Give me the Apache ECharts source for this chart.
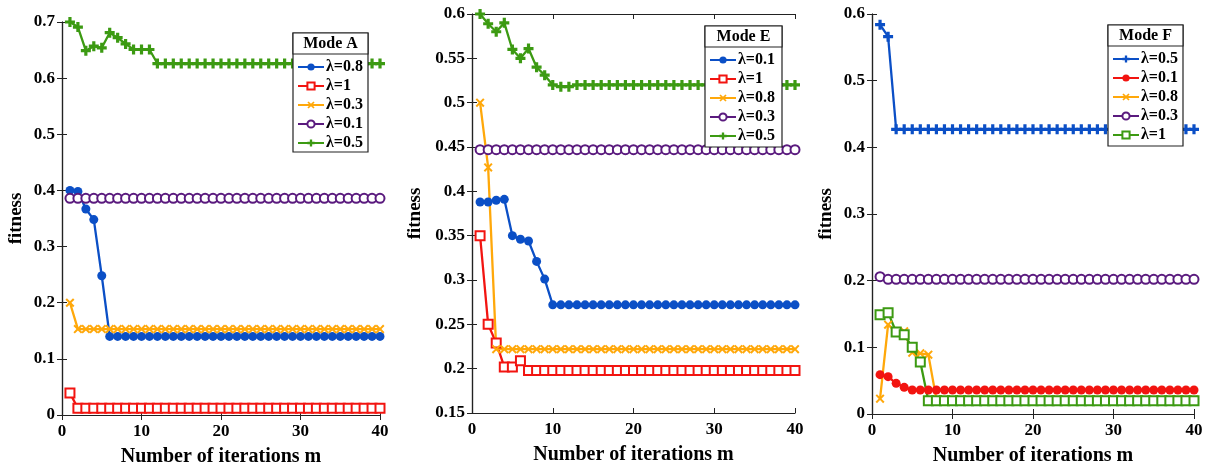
<!DOCTYPE html>
<html>
<head>
<meta charset="utf-8">
<script src="https://cdn.jsdelivr.net/npm/echarts@6/dist/echarts.min.js"></script>
<style>
    html, body { margin: 0; padding: 0; background: #fff; }
    #chart { width: 1211px; height: 465px; }
</style>
</head>
<body>
<div id="chart"></div>
<script>
// iteration numbers (x)
const iterations = [
    1, 2, 3, 4, 5, 6, 7, 8, 9, 10,
    11, 12, 13, 14, 15, 16, 17, 18, 19, 20,
    21, 22, 23, 24, 25, 26, 27, 28, 29, 30,
    31, 32, 33, 34, 35, 36, 37, 38, 39, 40
];

// Mode A
const aLam08 = [
    0.400, 0.398, 0.367, 0.348, 0.248, 0.140, 0.140, 0.140, 0.140, 0.140,
    0.140, 0.140, 0.140, 0.140, 0.140, 0.140, 0.140, 0.140, 0.140, 0.140,
    0.140, 0.140, 0.140, 0.140, 0.140, 0.140, 0.140, 0.140, 0.140, 0.140,
    0.140, 0.140, 0.140, 0.140, 0.140, 0.140, 0.140, 0.140, 0.140, 0.140
];
const aLam1 = [
    0.039, 0.012, 0.012, 0.012, 0.012, 0.012, 0.012, 0.012, 0.012, 0.012,
    0.012, 0.012, 0.012, 0.012, 0.012, 0.012, 0.012, 0.012, 0.012, 0.012,
    0.012, 0.012, 0.012, 0.012, 0.012, 0.012, 0.012, 0.012, 0.012, 0.012,
    0.012, 0.012, 0.012, 0.012, 0.012, 0.012, 0.012, 0.012, 0.012, 0.012
];
const aLam03 = [
    0.200, 0.153, 0.153, 0.153, 0.153, 0.153, 0.153, 0.153, 0.153, 0.153,
    0.153, 0.153, 0.153, 0.153, 0.153, 0.153, 0.153, 0.153, 0.153, 0.153,
    0.153, 0.153, 0.153, 0.153, 0.153, 0.153, 0.153, 0.153, 0.153, 0.153,
    0.153, 0.153, 0.153, 0.153, 0.153, 0.153, 0.153, 0.153, 0.153, 0.153
];
const aLam01 = [
    0.386, 0.386, 0.386, 0.386, 0.386, 0.386, 0.386, 0.386, 0.386, 0.386,
    0.386, 0.386, 0.386, 0.386, 0.386, 0.386, 0.386, 0.386, 0.386, 0.386,
    0.386, 0.386, 0.386, 0.386, 0.386, 0.386, 0.386, 0.386, 0.386, 0.386,
    0.386, 0.386, 0.386, 0.386, 0.386, 0.386, 0.386, 0.386, 0.386, 0.386
];
const aLam05 = [
    0.700, 0.691, 0.649, 0.657, 0.654, 0.681, 0.672, 0.661, 0.651, 0.651,
    0.651, 0.626, 0.626, 0.626, 0.626, 0.626, 0.626, 0.626, 0.626, 0.626,
    0.626, 0.626, 0.626, 0.626, 0.626, 0.626, 0.626, 0.626, 0.626, 0.626,
    0.626, 0.626, 0.626, 0.626, 0.626, 0.626, 0.626, 0.626, 0.626, 0.626
];

// Mode E
const eLam01 = [
    0.388, 0.388, 0.390, 0.391, 0.350, 0.346, 0.344, 0.321, 0.301, 0.272,
    0.272, 0.272, 0.272, 0.272, 0.272, 0.272, 0.272, 0.272, 0.272, 0.272,
    0.272, 0.272, 0.272, 0.272, 0.272, 0.272, 0.272, 0.272, 0.272, 0.272,
    0.272, 0.272, 0.272, 0.272, 0.272, 0.272, 0.272, 0.272, 0.272, 0.272
];
const eLam1 = [
    0.350, 0.250, 0.229, 0.202, 0.202, 0.209, 0.198, 0.198, 0.198, 0.198,
    0.198, 0.198, 0.198, 0.198, 0.198, 0.198, 0.198, 0.198, 0.198, 0.198,
    0.198, 0.198, 0.198, 0.198, 0.198, 0.198, 0.198, 0.198, 0.198, 0.198,
    0.198, 0.198, 0.198, 0.198, 0.198, 0.198, 0.198, 0.198, 0.198, 0.198
];
const eLam08 = [
    0.500, 0.427, 0.222, 0.222, 0.222, 0.222, 0.222, 0.222, 0.222, 0.222,
    0.222, 0.222, 0.222, 0.222, 0.222, 0.222, 0.222, 0.222, 0.222, 0.222,
    0.222, 0.222, 0.222, 0.222, 0.222, 0.222, 0.222, 0.222, 0.222, 0.222,
    0.222, 0.222, 0.222, 0.222, 0.222, 0.222, 0.222, 0.222, 0.222, 0.222
];
const eLam03 = [
    0.447, 0.447, 0.447, 0.447, 0.447, 0.447, 0.447, 0.447, 0.447, 0.447,
    0.447, 0.447, 0.447, 0.447, 0.447, 0.447, 0.447, 0.447, 0.447, 0.447,
    0.447, 0.447, 0.447, 0.447, 0.447, 0.447, 0.447, 0.447, 0.447, 0.447,
    0.447, 0.447, 0.447, 0.447, 0.447, 0.447, 0.447, 0.447, 0.447, 0.447
];
const eLam05 = [
    0.600, 0.589, 0.580, 0.590, 0.560, 0.550, 0.561, 0.540, 0.531, 0.520,
    0.518, 0.518, 0.520, 0.520, 0.520, 0.520, 0.520, 0.520, 0.520, 0.520,
    0.520, 0.520, 0.520, 0.520, 0.520, 0.520, 0.520, 0.520, 0.520, 0.520,
    0.520, 0.520, 0.520, 0.520, 0.520, 0.520, 0.520, 0.520, 0.520, 0.520
];

// Mode F
const fLam05 = [
    0.584, 0.566, 0.427, 0.427, 0.427, 0.427, 0.427, 0.427, 0.427, 0.427,
    0.427, 0.427, 0.427, 0.427, 0.427, 0.427, 0.427, 0.427, 0.427, 0.427,
    0.427, 0.427, 0.427, 0.427, 0.427, 0.427, 0.427, 0.427, 0.427, 0.427,
    0.427, 0.427, 0.427, 0.427, 0.427, 0.427, 0.427, 0.427, 0.427, 0.427
];
const fLam01 = [
    0.059, 0.056, 0.046, 0.040, 0.036, 0.036, 0.036, 0.036, 0.036, 0.036,
    0.036, 0.036, 0.036, 0.036, 0.036, 0.036, 0.036, 0.036, 0.036, 0.036,
    0.036, 0.036, 0.036, 0.036, 0.036, 0.036, 0.036, 0.036, 0.036, 0.036,
    0.036, 0.036, 0.036, 0.036, 0.036, 0.036, 0.036, 0.036, 0.036, 0.036
];
const fLam08 = [
    0.023, 0.134, 0.124, 0.124, 0.092, 0.091, 0.089, 0.022, 0.022, 0.022,
    0.022, 0.022, 0.022, 0.022, 0.022, 0.022, 0.022, 0.022, 0.022, 0.022,
    0.022, 0.022, 0.022, 0.022, 0.022, 0.022, 0.022, 0.022, 0.022, 0.022,
    0.022, 0.022, 0.022, 0.022, 0.022, 0.022, 0.022, 0.022, 0.022, 0.022
];
const fLam03 = [
    0.206, 0.202, 0.202, 0.202, 0.202, 0.202, 0.202, 0.202, 0.202, 0.202,
    0.202, 0.202, 0.202, 0.202, 0.202, 0.202, 0.202, 0.202, 0.202, 0.202,
    0.202, 0.202, 0.202, 0.202, 0.202, 0.202, 0.202, 0.202, 0.202, 0.202,
    0.202, 0.202, 0.202, 0.202, 0.202, 0.202, 0.202, 0.202, 0.202, 0.202
];
const fLam1 = [
    0.149, 0.152, 0.123, 0.119, 0.100, 0.078, 0.020, 0.020, 0.020, 0.020,
    0.020, 0.020, 0.020, 0.020, 0.020, 0.020, 0.020, 0.020, 0.020, 0.020,
    0.020, 0.020, 0.020, 0.020, 0.020, 0.020, 0.020, 0.020, 0.020, 0.020,
    0.020, 0.020, 0.020, 0.020, 0.020, 0.020, 0.020, 0.020, 0.020, 0.020
];

const xTicks = [0, 10, 20, 30, 40];

const FONT = "'Liberation Serif', 'Times New Roman', serif";
const BLUE = '#0b4fc6';
const RED = '#f21410';
const ORANGE = '#ffa80a';
const PURPLE = '#5a1a7e';
const GREEN = '#3c9a12';

// filled marker paths
const PLUS = 'path://M3.4,0H6.6V3.4H10V6.6H6.6V10H3.4V6.6H0V3.4H3.4Z';
const CROSS = 'path://M1.6,0L5,3.4L8.4,0L10,1.6L6.6,5L10,8.4L8.4,10L5,6.6L1.6,10L0,8.4L3.4,5L0,1.6Z';

const markers = {
    dot: { symbol: 'circle', symbolSize: 9 },
    square: { symbol: 'emptyRect', symbolSize: 9 },
    cross: { symbol: CROSS, symbolSize: 9 },
    ring: { symbol: 'emptyCircle', symbolSize: 9 },
    plus: { symbol: PLUS, symbolSize: 10 }
};

function pairs(values) {
    return values.map((v, i) => [iterations[i], v]);
}

function makeSeries(panel, idx, label, values, color, marker) {
    let hollow = marker === 'square' || marker === 'ring';
    return {
        name: panel + ':' + label,
        type: 'line',
        xAxisIndex: idx * 2,
        yAxisIndex: idx * 2,
        data: pairs(values),
        symbol: markers[marker].symbol,
        symbolSize: markers[marker].symbolSize,
        showAllSymbol: true,
        color: color,
        lineStyle: { color: color, width: 2.3 },
        itemStyle: { color: color, borderColor: color, borderWidth: hollow ? 2 : 0 },
        animation: false,
        z: 3
    };
}

// panel layout
const panels = [
    { key: 'A', left: 62, width: 318, top: 22, bottom: 50, min: 0, max: 0.7, step: 0.1, nameGap: 36,
      legend: { x: 293, y: 33, w: 75, h: 119 } },
    { key: 'E', left: 472, width: 323, top: 14, bottom: 52, min: 0.15, max: 0.6, step: 0.05, nameGap: 47,
      legend: { x: 705, y: 26, w: 77, h: 121 } },
    { key: 'F', left: 872, width: 322, top: 14, bottom: 51, min: 0, max: 0.6, step: 0.1, nameGap: 36,
      legend: { x: 1108, y: 25, w: 75, h: 121 } }
];

const series = [
    makeSeries('A', 0, 'λ=0.8', aLam08, BLUE, 'dot'),
    makeSeries('A', 0, 'λ=1', aLam1, RED, 'square'),
    makeSeries('A', 0, 'λ=0.3', aLam03, ORANGE, 'cross'),
    makeSeries('A', 0, 'λ=0.1', aLam01, PURPLE, 'ring'),
    makeSeries('A', 0, 'λ=0.5', aLam05, GREEN, 'plus'),

    makeSeries('E', 1, 'λ=0.1', eLam01, BLUE, 'dot'),
    makeSeries('E', 1, 'λ=1', eLam1, RED, 'square'),
    makeSeries('E', 1, 'λ=0.8', eLam08, ORANGE, 'cross'),
    makeSeries('E', 1, 'λ=0.3', eLam03, PURPLE, 'ring'),
    makeSeries('E', 1, 'λ=0.5', eLam05, GREEN, 'plus'),

    makeSeries('F', 2, 'λ=0.5', fLam05, BLUE, 'plus'),
    makeSeries('F', 2, 'λ=0.1', fLam01, RED, 'dot'),
    makeSeries('F', 2, 'λ=0.8', fLam08, ORANGE, 'cross'),
    makeSeries('F', 2, 'λ=0.3', fLam03, PURPLE, 'ring'),
    makeSeries('F', 2, 'λ=1', fLam1, GREEN, 'square')
];

const grids = [];
const xAxes = [];
const yAxes = [];
const legends = [];
const graphics = [];

const axisFrame = { show: true, lineStyle: { color: '#222', width: 1.2 } };
const tickIn = { show: true, inside: true, length: 5, lineStyle: { color: '#222', width: 1 } };

panels.forEach((p, i) => {
    // keep grid rect fixed, names may run outside
    grids.push({ left: p.left, width: p.width, top: p.top, bottom: p.bottom, outerBoundsMode: 'none', containLabel: false });

    // bottom + top x axes (box)
    xAxes.push({
        type: 'value', gridIndex: i, position: 'bottom',
        min: 0, max: 40, interval: 10,
        name: 'Number of iterations m', nameLocation: 'middle', nameGap: 32,
        nameTextStyle: { fontFamily: FONT, fontWeight: 'bold', fontSize: 20, color: '#000' },
        axisLine: axisFrame, axisTick: tickIn, splitLine: { show: false },
        axisLabel: { fontFamily: FONT, fontWeight: 'bold', fontSize: 17, color: '#000', margin: 8,
            formatter: v => xTicks.includes(v) ? String(v) : '' }
    });
    xAxes.push({
        type: 'value', gridIndex: i, position: 'top',
        min: 0, max: 40, interval: 10,
        axisLine: axisFrame, axisTick: tickIn, axisLabel: { show: false }, splitLine: { show: false }
    });

    // left + right y axes
    yAxes.push({
        type: 'value', gridIndex: i, position: 'left',
        min: p.min, max: p.max, interval: p.step,
        name: 'fitness', nameLocation: 'middle', nameGap: p.nameGap,
        nameTextStyle: { fontFamily: FONT, fontWeight: 'bold', fontSize: 19, color: '#000' },
        axisLine: axisFrame, axisTick: tickIn, splitLine: { show: false },
        axisLabel: { fontFamily: FONT, fontWeight: 'bold', fontSize: 17, color: '#000', margin: 7,
            formatter: v => String(Math.round(v * 100) / 100) }
    });
    yAxes.push({
        type: 'value', gridIndex: i, position: 'right',
        min: p.min, max: p.max, interval: p.step,
        axisLine: axisFrame, axisTick: tickIn, axisLabel: { show: false }, splitLine: { show: false }
    });

    // legend box with title
    const L = p.legend;
    graphics.push({
        type: 'rect', z: 10,
        shape: { x: L.x, y: L.y, width: L.w, height: L.h },
        style: { fill: '#fff', stroke: '#222', lineWidth: 1.2 }
    });
    graphics.push({
        type: 'rect', z: 11,
        shape: { x: L.x, y: L.y, width: L.w, height: 21 },
        style: { fill: '#fff', stroke: '#222', lineWidth: 1.2 }
    });
    graphics.push({
        type: 'text', z: 12, x: L.x + L.w / 2, y: L.y + 11,
        style: { text: 'Mode ' + p.key, fontFamily: FONT, fontWeight: 'bold', fontSize: 16,
            fill: '#000', align: 'center', verticalAlign: 'middle' }
    });

    legends.push({
        orient: 'vertical',
        left: L.x + 4, top: L.y + 26,
        padding: 0,
        itemWidth: 26, itemHeight: 9, itemGap: 3,
        z: 20,
        data: series.filter(s => s.name.startsWith(p.key + ':')).map(s => s.name),
        formatter: name => name.split(':')[1],
        textStyle: { fontFamily: FONT, fontWeight: 'bold', fontSize: 16, color: '#000', padding: [0, 0, 0, -3] },
        selectedMode: false
    });
});

let chartElem = document.getElementById('chart');
let chart = echarts.init(chartElem, null, { renderer: 'canvas' });
chart.setOption({
    backgroundColor: '#fff',
    animation: false,
    grid: grids,
    xAxis: xAxes,
    yAxis: yAxes,
    legend: legends,
    graphic: graphics,
    series: series
});
</script>
</body>
</html>
